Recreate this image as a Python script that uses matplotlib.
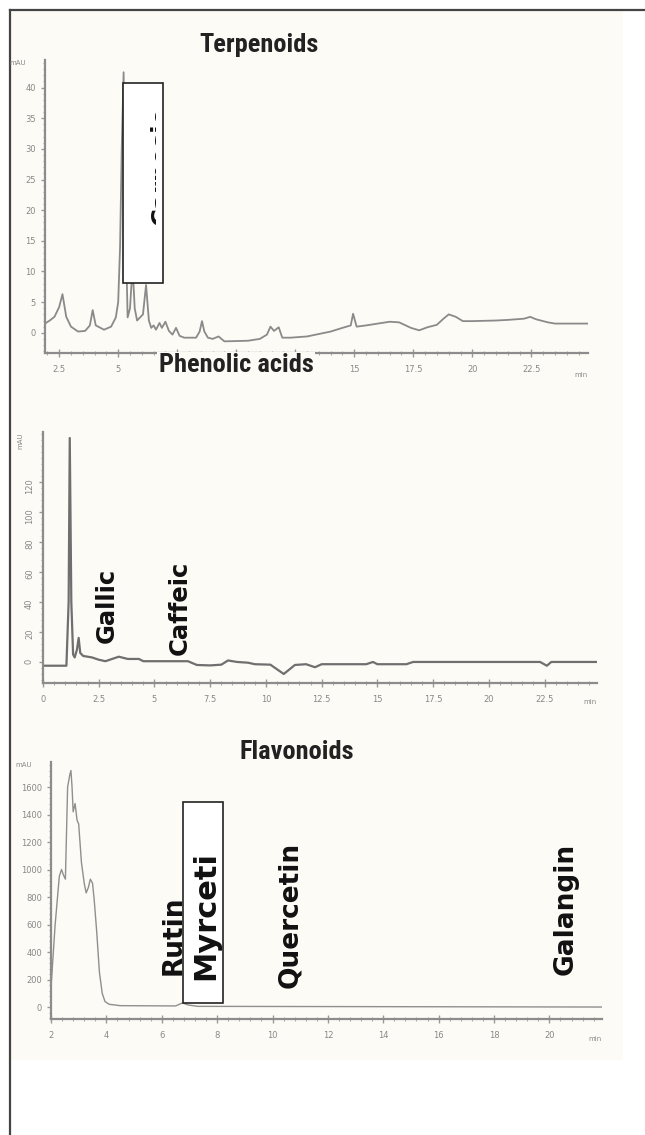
import matplotlib
matplotlib.use('Agg')
import matplotlib.pyplot as plt
from matplotlib.patches import Rectangle
from matplotlib.transforms import Bbox, TransformedBbox
from matplotlib.ticker import MultipleLocator, FuncFormatter

# Terpenoids chromatogram (min, mAU)
terp_t = [1.9, 2.1, 2.3, 2.5, 2.64, 2.8, 3.0, 3.3, 3.6, 3.8, 3.92, 4.05, 4.4, 4.7, 4.9, 5.0,
          5.08, 5.15, 5.23, 5.3, 5.4, 5.5, 5.61, 5.7, 5.8, 6.05, 6.18, 6.3, 6.4, 6.5, 6.6,
          6.75, 6.85, 7.0, 7.15, 7.3, 7.45, 7.6, 7.8, 8.3, 8.45, 8.55, 8.65, 8.8, 9.0, 9.25,
          9.5, 10.5, 11.0, 11.3, 11.45, 11.6, 11.8, 11.95, 12.3, 13.0, 13.5, 14.0, 14.5, 14.85,
          14.95, 15.1, 15.5, 16.0, 16.5, 16.9, 17.4, 17.75, 18.1, 18.5, 18.75, 19.0, 19.3, 19.6,
          20.0, 21.0, 21.5, 22.2, 22.45, 22.7, 23.2, 23.5, 24.9]
terp_v = [1.5, 2.0, 2.6, 4.2, 6.3, 2.6, 1.0, 0.2, 0.3, 1.2, 3.7, 1.2, 0.5, 1.0, 2.5, 5.0,
          14.0, 30.0, 42.5, 20.0, 2.5, 4.0, 10.8, 4.0, 2.0, 3.0, 7.8, 2.0, 0.8, 1.2, 0.5,
          1.6, 0.8, 1.8, 0.3, -0.3, 0.8, -0.5, -0.8, -0.8, 0.2, 1.9, 0.2, -0.8, -1.0, -0.6,
          -1.4, -1.3, -1.0, -0.3, 1.0, 0.3, 0.9, -0.8, -0.8, -0.6, -0.2, 0.2, 0.8, 1.2,
          3.1, 1.0, 1.2, 1.5, 1.8, 1.7, 0.8, 0.4, 0.9, 1.3, 2.2, 3.0, 2.6, 1.9,
          1.9, 2.0, 2.1, 2.3, 2.6, 2.2, 1.7, 1.5, 1.5]

# Phenolic acids chromatogram (min, mAU)
phen_t = [0.0, 1.05, 1.15, 1.2, 1.27, 1.35, 1.42, 1.52, 1.6, 1.67, 1.8, 2.2, 2.5, 2.8, 3.4,
          3.8, 4.3, 4.5, 6.5, 6.9, 7.5, 8.0, 8.3, 8.7, 9.2, 9.5, 10.2, 10.8, 11.3, 11.8,
          12.2, 12.5, 14.5, 14.8, 15.0, 16.3, 16.6, 22.3, 22.6, 22.8, 24.85]
phen_v = [-2.5, -2.5, 40, 149, 40, 5, 3, 8, 16, 6, 4, 3, 1.5, 0.5, 3.5,
          2, 2, 0.5, 0.5, -2, -2.3, -1.8, 1, 0, -0.5, -1.5, -1.8, -8, -2, -1.5,
          -3.5, -1.5, -1.5, 0, -1.5, -1.5, 0, 0, -2.5, 0, 0]

# Flavonoids chromatogram (min, mAU)
flav_t = [2.0, 2.15, 2.3, 2.38, 2.45, 2.52, 2.6, 2.68, 2.72, 2.76, 2.8, 2.87, 2.94, 3.0,
          3.1, 3.2, 3.27, 3.35, 3.42, 3.5, 3.56, 3.65, 3.75, 3.85, 3.95, 4.1, 4.5, 6.5,
          6.75, 6.95, 7.3, 22.0]
flav_v = [140, 600, 950, 1000, 960, 930, 1600, 1690, 1720, 1600, 1420, 1480, 1360, 1330,
          1050, 900, 830, 870, 930, 900, 780, 550, 250, 100, 40, 20, 10, 8,
          30, 15, 5, 0]

phen_labels = ['Gallic', 'Caffeic']
phen_label_t = [2.87, 6.14]
phen_label_y = [12.7, 4.7]
flav_labels = ['Rutin', 'Quercetin', 'Galangin']
flav_label_t = [6.44, 10.63, 20.6]
flav_label_y = [233, 138, 233]

W, H = 645, 1135
fig = plt.figure(figsize=(W / 100, H / 100), dpi=100)
fig.patch.set_facecolor('white')


def rect(px_l, px_t, px_r, px_b):
    return [px_l / W, 1 - px_b / H, (px_r - px_l) / W, (px_b - px_t) / H]


# off-white scan background and frame lines
bg = Rectangle((11 / W, 1 - 1060 / H), (623 - 11) / W, (1060 - 11) / H,
               transform=fig.transFigure, facecolor='#fdfbf6', edgecolor='none', zorder=-5)
fig.patches.append(bg)
fig.add_artist(plt.Line2D([10 / W, 1], [1 - 10 / H, 1 - 10 / H], color='#444444', lw=1.6))
fig.add_artist(plt.Line2D([10 / W, 10 / W], [0, 1 - 10 / H], color='#444444', lw=1.6))

title_font = dict(family=['Roboto Condensed', 'Roboto', 'DejaVu Sans'], weight='bold',
                  size=19, color='#222222')
label_font = dict(family='DejaVu Sans', weight='bold', color='#111111')

fmt = FuncFormatter(lambda v, p: '%g' % v)


def style(ax, xmaj, xmin, ymaj, ymin, yrot=0):
    ax.set_facecolor('none')
    ax.set_zorder(2)
    for s in ['top', 'right']:
        ax.spines[s].set_visible(False)
    for s in ['left', 'bottom']:
        ax.spines[s].set_color('#8c8c8c')
        ax.spines[s].set_linewidth(1.6)
    ax.xaxis.set_major_locator(MultipleLocator(xmaj))
    ax.xaxis.set_minor_locator(MultipleLocator(xmin))
    ax.yaxis.set_major_locator(MultipleLocator(ymaj))
    ax.yaxis.set_minor_locator(MultipleLocator(ymin))
    ax.xaxis.set_major_formatter(fmt)
    ax.yaxis.set_major_formatter(fmt)
    ax.tick_params(axis='x', which='major', direction='inout', length=6, width=1,
                   color='#999999', labelsize=6, labelcolor='#888888', pad=6)
    ax.tick_params(axis='x', which='minor', direction='inout', length=3, width=0.8,
                   color='#aaaaaa')
    ax.tick_params(axis='y', which='major', direction='out', length=3, width=1,
                   color='#999999', labelsize=6, labelcolor='#888888', labelrotation=yrot)
    ax.tick_params(axis='y', which='minor', direction='out', length=1.5, width=0.8,
                   color='#aaaaaa')
    ax.text(-0.035, 1.0, 'mAU', transform=ax.transAxes, fontsize=5, color='#888888',
            ha='right', va='top', rotation=yrot)
    ax.text(1.0, -0.065, 'min', transform=ax.transAxes, fontsize=5, color='#888888',
            ha='right', va='top')


def boxed_label(ax, text, x0, y0, x1, y1, tx, ty, cx1, cy1, ha, size):
    # white box with a name that only partly shows through it
    ax.add_patch(Rectangle((x0, y0), x1 - x0, y1 - y0, facecolor='white',
                           edgecolor='#222222', lw=1.2, zorder=3))
    t = ax.text(tx, ty, text, rotation=90, ha=ha, va='bottom', zorder=4,
                clip_on=True, size=size, **label_font)
    t.set_clip_box(TransformedBbox(Bbox([[x0, y0], [cx1, cy1]]), ax.transData))


# --- Terpenoids ---
ax1 = fig.add_axes(rect(45, 60, 588, 353))
ax1.plot(terp_t, terp_v, color='#8a8a8a', lw=1.3)
ax1.set_xlim(1.9, 24.9)
ax1.set_ylim(-3.3, 44.5)
style(ax1, 2.5, 0.5, 5, 1)
ax1.set_xticks([2.5, 5, 7.5, 10, 12.5, 15, 17.5, 20, 22.5])
ax1.set_yticks([0, 5, 10, 15, 20, 25, 30, 35, 40])
boxed_label(ax1, 'Carnosic', 5.2, 8.1, 6.9, 40.7, 6.35, 17.6, 6.6, 40.7, 'left', 17.5)

fig.text(259 / W, 1 - 45 / H, 'Terpenoids', ha='center', va='center', **title_font)

# --- Phenolic acids ---
ax2 = fig.add_axes(rect(43, 432, 597, 683))
ax2.plot(phen_t, phen_v, color='#6f6f6f', lw=1.6)
ax2.set_xlim(0, 24.85)
ax2.set_ylim(-14, 153)
style(ax2, 2.5, 0.5, 20, 4, yrot=90)
ax2.set_xticks([0, 2.5, 5, 7.5, 10, 12.5, 15, 17.5, 20, 22.5])
ax2.set_yticks([0, 20, 40, 60, 80, 100, 120])
for name, t, y in zip(phen_labels, phen_label_t, phen_label_y):
    ax2.text(t, y, name, rotation=90, ha='center', va='bottom', size=17.5, **label_font)

# title sits on top of the terpenoid x tick labels, like the scanned figure
fig.text(236 / W, 1 - 365 / H, 'Phenolic acids', ha='center', va='center', zorder=10,
         bbox=dict(facecolor='#fdfbf6', edgecolor='none', pad=1), **title_font)

# --- Flavonoids ---
ax3 = fig.add_axes(rect(51, 762, 602, 1019))
ax3.plot(flav_t, flav_v, color='#8f8f8f', lw=1.0)
ax3.set_xlim(2, 21.9)
ax3.set_ylim(-87, 1782)
style(ax3, 2, 0.4, 200, 40)
ax3.set_xticks([2, 4, 6, 8, 10, 12, 14, 16, 18, 20])
ax3.set_yticks([0, 200, 400, 600, 800, 1000, 1200, 1400, 1600])
for name, t, y in zip(flav_labels, flav_label_t, flav_label_y):
    ax3.text(t, y, name, rotation=90, ha='center', va='bottom', size=19, **label_font)
boxed_label(ax3, 'Myrcetin', 6.77, 29, 8.21, 1491, 7.58, 196, 8.21, 1115, 'center', 22)

fig.text(297 / W, 1 - 752 / H, 'Flavonoids', ha='center', va='center', **title_font)

fig.savefig('out.png', dpi=100)
